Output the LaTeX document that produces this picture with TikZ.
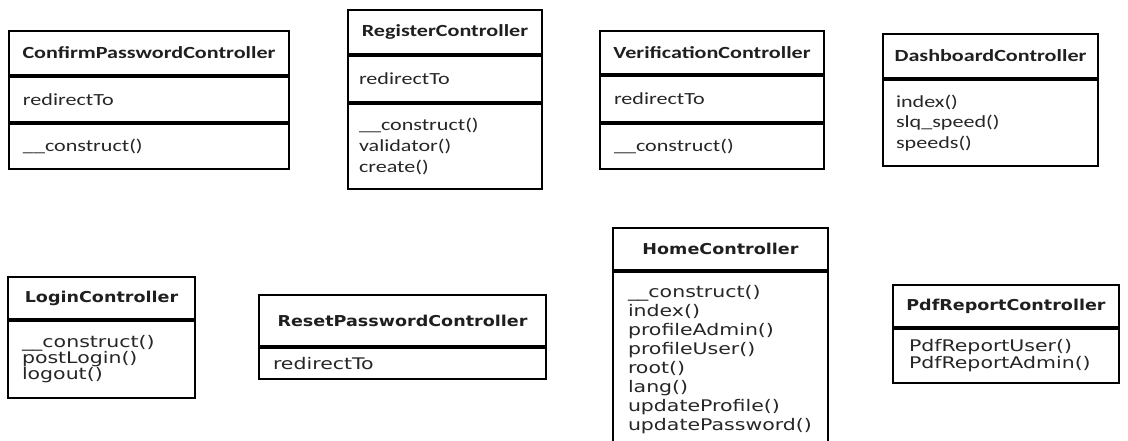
\documentclass[tikz,border=0pt]{standalone}
\usepackage{fontspec}
\newfontfamily\fcal[FakeStretch=1.3]{Carlito}
\newfontfamily\fdv[FakeStretch=1.28]{DejaVu Sans}
\newfontfamily\fdvb[FakeStretch=1.17]{DejaVu Sans Bold}
\begin{document}
\begin{tikzpicture}[x=1pt,y=-1pt,line width=2pt,
  ttl/.style={draw, inner sep=0pt, anchor=north west, align=center, text=black!88},
  cmp/.style={draw, inner xsep=14pt, inner ysep=0pt, anchor=north west, align=left, text=black!85},
  calt/.style={font=\fcal\bfseries\fontsize{17}{20}\selectfont},
  calb/.style={font=\fcal\fontsize{17}{#1}\selectfont},
  calb/.default=21,
  dvt/.style={font=\fdvb\fontsize{15}{18}\selectfont},
  dvb/.style={font=\fdv\fontsize{16}{#1}\selectfont},
  dvb/.default=19]
\useasboundingbox (0,0) rectangle (1128,441);
% ConfirmPasswordController
\node[ttl, calt, minimum width=280pt, minimum height=44pt] (cpT) at (8,30) {ConfirmPasswordController};
\node[cmp, calb, text width=252pt, minimum height=45pt] (cpA) at (cpT.south west) {redirectTo};
\node[cmp, calb, text width=252pt, minimum height=45pt] (cpM) at (cpA.south west) {\_\_construct()};
% RegisterController
\node[ttl, calt, minimum width=194pt, minimum height=44pt] (rgT) at (347,9) {RegisterController};
\node[cmp, calb, inner xsep=11pt, text width=172pt, minimum height=46pt] (rgA) at (rgT.south west) {redirectTo};
\node[cmp, calb=21, inner xsep=11pt, text width=172pt, minimum height=85pt] (rgM) at (rgA.south west) {\_\_construct()\\validator()\\create()};
% VerificationController
\node[ttl, calt, minimum width=224pt, minimum height=43pt] (vcT) at (599,30) {VerificationController};
\node[cmp, calb, text width=196pt, minimum height=46pt] (vcA) at (vcT.south west) {redirectTo};
\node[cmp, calb, text width=196pt, minimum height=45pt] (vcM) at (vcA.south west) {\_\_construct()};
% DashboardController
\node[ttl, calt, minimum width=215pt, minimum height=44pt] (dbT) at (882,33) {DashboardController};
\node[cmp, calb=20.5, inner xsep=13pt, text width=189pt, minimum height=86pt] (dbM) at (dbT.south west) {index()\\slq\_speed()\\speeds()};
% LoginController
\node[ttl, dvt, minimum width=187pt, minimum height=42pt] (lgT) at (7,276) {LoginController};
\node[cmp, dvb=16, text width=159pt, minimum height=77pt] (lgM) at (lgT.south west) {\_\_construct()\\postLogin()\\logout()};
% ResetPasswordController
\node[ttl, dvt, minimum width=287pt, minimum height=51pt] (rpT) at (258,294) {ResetPasswordController};
\node[cmp, dvb, text width=259pt, minimum height=31pt] (rpA) at (rpT.south west) {redirectTo};
% HomeController
\node[ttl, dvt, minimum width=215pt, minimum height=42pt] (hcT) at (612,227) {HomeController};
\node[cmp, dvb=19, inner xsep=15pt, text width=185pt, minimum height=175pt] (hcM) at (hcT.south west) {\_\_construct()\\index()\\profileAdmin()\\profileUser()\\root()\\lang()\\updateProfile()\\updatePassword()};
% PdfReportController
\node[ttl, dvt, minimum width=226pt, minimum height=42pt] (prT) at (892,284) {PdfReportController};
\node[cmp, dvb=17, inner xsep=16pt, text width=194pt, minimum height=54pt] (prM) at (prT.south west) {PdfReportUser()\\PdfReportAdmin()};
\end{tikzpicture}
\end{document}
